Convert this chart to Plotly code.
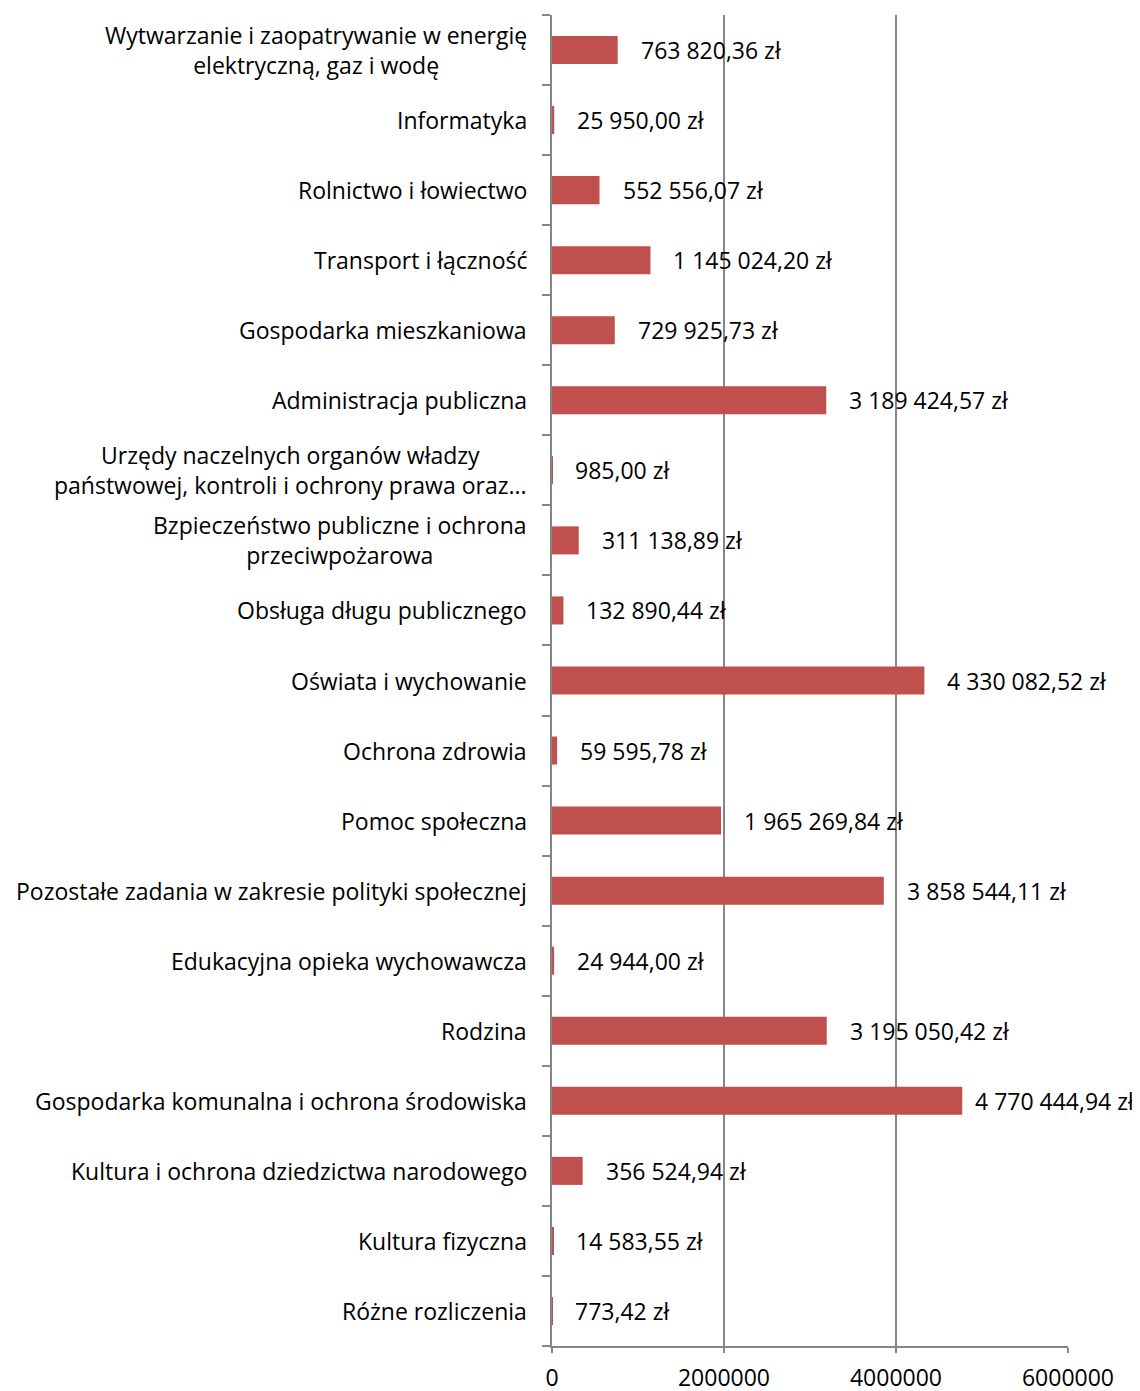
import plotly.graph_objects as go

categories = [
    "Wytwarzanie i zaopatrywanie w energię<br>elektryczną, gaz i wodę",
    "Informatyka",
    "Rolnictwo i łowiectwo",
    "Transport i łączność",
    "Gospodarka mieszkaniowa",
    "Administracja publiczna",
    "Urzędy naczelnych organów władzy<br>państwowej, kontroli i ochrony prawa oraz...",
    "Bzpieczeństwo publiczne i ochrona<br>przeciwpożarowa",
    "Obsługa długu publicznego",
    "Oświata i wychowanie",
    "Ochrona zdrowia",
    "Pomoc społeczna",
    "Pozostałe zadania w zakresie polityki społecznej",
    "Edukacyjna opieka wychowawcza",
    "Rodzina",
    "Gospodarka komunalna i ochrona środowiska",
    "Kultura i ochrona dziedzictwa narodowego",
    "Kultura fizyczna",
    "Różne rozliczenia",
]
values = [
    763820.36, 25950.00, 552556.07, 1145024.20, 729925.73, 3189424.57,
    985.00, 311138.89, 132890.44, 4330082.52, 59595.78, 1965269.84,
    3858544.11, 24944.00, 3195050.42, 4770444.94, 356524.94, 14583.55, 773.42,
]
x_ticks = [0, 2000000, 4000000, 6000000]
x_tick_labels = ["0", "2000000", "4000000", "6000000"]

FONT = "'Open Sans', sans-serif"
FS = 23
GRID = "#868686"
X_MAX = 6000000

W, H = 1140, 1391
ML, MR, MT, MB = 544, 80, 7, 53
PLOT_W = W - ML - MR
PAGE_RIGHT = 1137 - 8  # usable right edge within the figure (page offset 8px)


def pl_money(v):
    s = f"{v:,.2f}"
    s = s.replace(",", " ").replace(".", ",")
    return s + " zł"


fig = go.Figure()
fig.add_trace(go.Bar(
    x=values, y=list(range(len(categories))), orientation="h",
    marker=dict(color="#C0504D", line=dict(width=0)),
    width=0.4, hoverinfo="skip",
))

for i, (c, v) in enumerate(zip(categories, values)):
    txt = pl_money(v)
    est_w = len(txt) * 0.475 * FS
    start = ML + v / X_MAX * PLOT_W + 21
    if start + est_w > PAGE_RIGHT:
        fig.add_annotation(
            x=1, y=i, xref="paper", yref="y", text=txt, showarrow=False,
            xanchor="right", xshift=PAGE_RIGHT - (ML + PLOT_W),
            font=dict(family=FONT, size=FS, color="#000"),
        )
    else:
        fig.add_annotation(
            x=v, y=i, xref="x", yref="y", text=txt, showarrow=False,
            xanchor="left", xshift=21, font=dict(family=FONT, size=FS, color="#000"),
        )
    fig.add_annotation(
        x=0, y=i, xref="paper", yref="y", text=c, showarrow=False,
        xanchor="right", xshift=-23, align="center",
        font=dict(family=FONT, size=FS, color="#000"),
    )

fig.update_layout(
    width=W, height=H,
    margin=dict(l=ML, r=MR, t=MT, b=MB, autoexpand=False),
    plot_bgcolor="white", paper_bgcolor="white",
    showlegend=False,
    font=dict(family=FONT, size=FS, color="#000"),
)
fig.update_xaxes(
    range=[0, X_MAX], tickvals=x_ticks, ticktext=x_tick_labels,
    showgrid=True, gridcolor=GRID, gridwidth=1.5,
    showline=True, linecolor=GRID, linewidth=1.5,
    ticks="outside", ticklen=5, tickcolor=GRID, tickwidth=1.5,
    zeroline=False, tickfont=dict(family=FONT, size=FS, color="#000"),
    ticklabelstandoff=6, automargin=False,
)
fig.update_yaxes(
    type="linear", range=[len(categories) - 0.5, -0.5],
    tickvals=[i - 0.5 for i in range(len(categories) + 1)],
    showticklabels=False, showgrid=False,
    showline=True, linecolor=GRID, linewidth=1.5,
    ticks="outside", ticklen=8, tickcolor=GRID, tickwidth=1.5,
    zeroline=False, automargin=False,
)

fig.write_html("out.html")
